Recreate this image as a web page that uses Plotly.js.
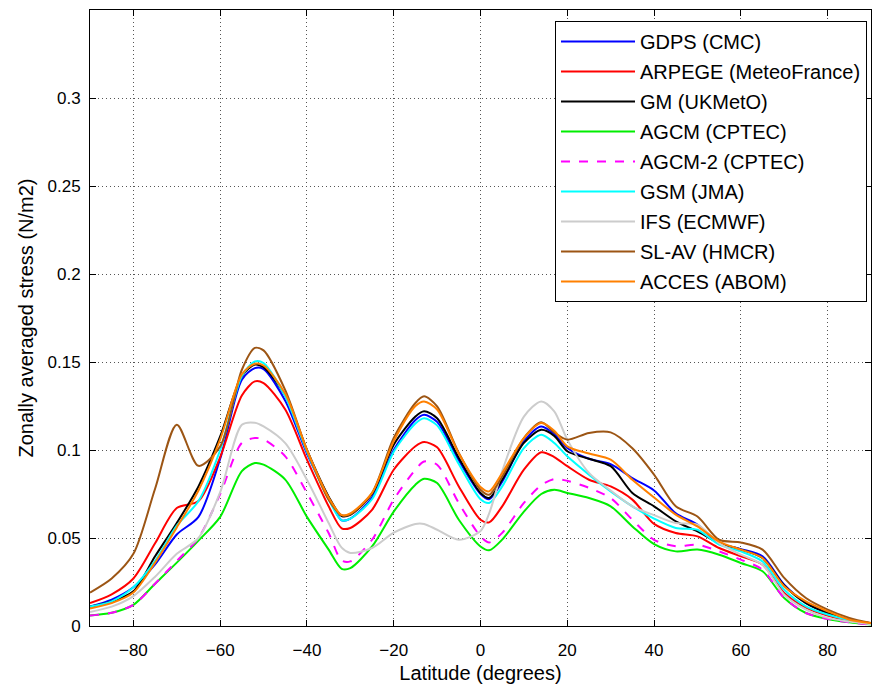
<!DOCTYPE html>
<html>
<head>
<meta charset="utf-8">
<script src="https://cdn.plot.ly/plotly-3.0.1.min.js"></script>
<style>
  html, body { margin: 0; padding: 0; background: #ffffff; }
  #chart { width: 883px; height: 689px; }
</style>
</head>
<body>
<div id="chart"></div>
<script>
// Latitude sample points (degrees)
const lat = [-90,-85,-80,-75,-70,-65,-60,-55,-52,-50,-45,-40,-35,-32,-30,-25,-20,-15,-13,-10,-5,0,2,5,10,14,17,20,25,30,35,40,45,50,55,60,65,70,75,80,85,90];

// Zonally averaged surface stress (N/m2) per model
const gdps   = [0.011,0.015,0.022,0.035,0.052,0.062,0.095,0.140,0.1465,0.146,0.128,0.098,0.073,0.060,0.061,0.073,0.100,0.117,0.120,0.116,0.094,0.075,0.072,0.082,0.1049,0.1134,0.109,0.1011,0.095,0.092,0.084,0.077,0.064,0.0576,0.0471,0.0437,0.0396,0.0235,0.0131,0.0074,0.0036,0.0015];
const arpege = [0.013,0.018,0.027,0.047,0.067,0.071,0.096,0.131,0.139,0.138,0.123,0.0945,0.068,0.0555,0.0557,0.066,0.0888,0.1021,0.1045,0.1015,0.0793,0.0604,0.0589,0.068,0.0888,0.0987,0.096,0.0908,0.0831,0.0793,0.0718,0.058,0.0528,0.0509,0.0443,0.0396,0.0348,0.0188,0.0105,0.006,0.003,0.0012];
const gm     = [0.011,0.014,0.0197,0.0396,0.0585,0.0793,0.1077,0.142,0.1485,0.147,0.131,0.100,0.0735,0.0625,0.0632,0.075,0.103,0.119,0.122,0.118,0.0955,0.0756,0.0727,0.0831,0.104,0.1115,0.108,0.0993,0.095,0.0908,0.0756,0.068,0.0595,0.0538,0.0471,0.0434,0.0386,0.023,0.013,0.0074,0.0036,0.0015];
const agcm   = [0.006,0.0075,0.012,0.024,0.036,0.0485,0.062,0.088,0.0926,0.0917,0.0832,0.062,0.0434,0.0325,0.0329,0.0452,0.065,0.0803,0.0837,0.0812,0.0604,0.0452,0.043,0.0491,0.065,0.075,0.0774,0.0756,0.0727,0.068,0.0566,0.0465,0.0424,0.0434,0.0405,0.0358,0.0311,0.0159,0.0074,0.004,0.0021,0.0008];
const agcm2  = [0.006,0.0075,0.012,0.024,0.037,0.050,0.075,0.104,0.1068,0.106,0.0964,0.0756,0.0528,0.0372,0.0367,0.049,0.0718,0.0888,0.0935,0.0916,0.0698,0.051,0.0475,0.0529,0.0699,0.080,0.0835,0.0825,0.0785,0.0727,0.0604,0.049,0.0453,0.0462,0.0424,0.0377,0.032,0.0159,0.0074,0.004,0.0021,0.0008];
const gsm    = [0.011,0.014,0.022,0.037,0.057,0.071,0.100,0.142,0.1503,0.1494,0.1305,0.099,0.072,0.060,0.061,0.072,0.099,0.115,0.118,0.114,0.092,0.072,0.0699,0.0793,0.1011,0.1087,0.104,0.0964,0.086,0.0765,0.068,0.061,0.0557,0.0547,0.0462,0.0424,0.0367,0.0206,0.0112,0.0065,0.0033,0.0012];
const ifs    = [0.008,0.011,0.017,0.028,0.041,0.050,0.076,0.1143,0.1155,0.1134,0.1039,0.0831,0.0585,0.0445,0.0415,0.0443,0.053,0.058,0.058,0.0547,0.049,0.054,0.064,0.088,0.119,0.1276,0.122,0.1059,0.087,0.077,0.068,0.063,0.0585,0.0576,0.0471,0.0405,0.0348,0.0178,0.0093,0.0046,0.0025,0.001];
const slav   = [0.019,0.027,0.041,0.078,0.1144,0.091,0.102,0.1456,0.158,0.1566,0.134,0.100,0.0717,0.063,0.0635,0.0756,0.1068,0.1267,0.1305,0.1248,0.0983,0.0774,0.0746,0.0849,0.1068,0.1157,0.110,0.1059,0.1097,0.110,0.101,0.086,0.068,0.0622,0.049,0.0475,0.0434,0.0273,0.0159,0.0093,0.0046,0.0017];
const acces  = [0.010,0.013,0.019,0.036,0.056,0.077,0.106,0.143,0.149,0.148,0.132,0.100,0.073,0.063,0.064,0.0756,0.105,0.125,0.1276,0.123,0.098,0.079,0.0765,0.0869,0.1068,0.1153,0.111,0.1021,0.098,0.0945,0.0831,0.073,0.0633,0.0566,0.048,0.0434,0.0386,0.0226,0.014,0.0084,0.0036,0.0017];

const modelNames = ['GDPS (CMC)','ARPEGE (MeteoFrance)','GM (UKMetO)','AGCM (CPTEC)','AGCM-2 (CPTEC)','GSM (JMA)','IFS (ECMWF)','SL-AV (HMCR)','ACCES (ABOM)'];
const modelSeries = [gdps, arpege, gm, agcm, agcm2, gsm, ifs, slav, acces];
const modelColors = ['#0000ff','#ff0000','#000000','#00ee00','#ff00ff','#00ffff','#cccccc','#9c5514','#ff8000'];
const modelDash = ['solid','solid','solid','solid','dash','solid','solid','solid','solid'];

const xTicks = [-80,-60,-40,-20,0,20,40,60,80];
const yTicks = [0,0.05,0.1,0.15,0.2,0.25,0.3];
const yTickText = ['0','0.05','0.1','0.15','0.2','0.25','0.3'];

const traces = modelSeries.map((vals, i) => ({
  type: 'scatter',
  mode: 'lines',
  x: lat,
  y: vals,
  name: modelNames[i],
  legendgroup: 'g' + i,
  line: { color: modelColors[i], width: 2, dash: modelDash[i], shape: 'spline', smoothing: 0.8 }
}));

const fontFamily = 'Arial, "Liberation Sans", sans-serif';
const axisFont = { family: fontFamily, size: 17, color: '#000' };
const titleFont = { family: fontFamily, size: 20, color: '#000' };

const layout = {
  width: 883,
  height: 689,
  margin: { l: 90, r: 12, t: 10, b: 63 },
  paper_bgcolor: '#ffffff',
  plot_bgcolor: '#ffffff',
  showlegend: true,
  legend: {
    x: 0.5954, y: 0.982, xanchor: 'left', yanchor: 'top',
    bgcolor: '#ffffff', bordercolor: '#000000', borderwidth: 1,
    font: { family: fontFamily, size: 20, color: '#000' },
    traceorder: 'grouped', tracegroupgap: 1,
    itemwidth: 74
  },
  xaxis: {
    range: [-90, 90],
    tickvals: xTicks,
    ticks: 'inside', ticklen: 6, tickcolor: '#000',
    showline: true, linecolor: '#000', linewidth: 1, mirror: 'ticks',
    showgrid: true, gridcolor: '#555', griddash: '1px,3px', gridwidth: 1,
    zeroline: false,
    tickfont: axisFont,
    ticklabelstandoff: 9,
    title: { text: 'Latitude (degrees)', font: titleFont, standoff: 6 },
    automargin: false
  },
  yaxis: {
    range: [0, 0.35],
    tickvals: yTicks, ticktext: yTickText,
    ticks: 'inside', ticklen: 6, tickcolor: '#000',
    showline: true, linecolor: '#000', linewidth: 1, mirror: 'ticks',
    showgrid: true, gridcolor: '#555', griddash: '1px,3px', gridwidth: 1,
    zeroline: false,
    tickfont: axisFont,
    ticklabelstandoff: 5,
    title: { text: 'Zonally averaged stress (N/m2)', font: titleFont, standoff: 8 },
    automargin: false
  }
};

Plotly.newPlot('chart', traces, layout, { displayModeBar: false, staticPlot: true });
</script>
</body>
</html>
